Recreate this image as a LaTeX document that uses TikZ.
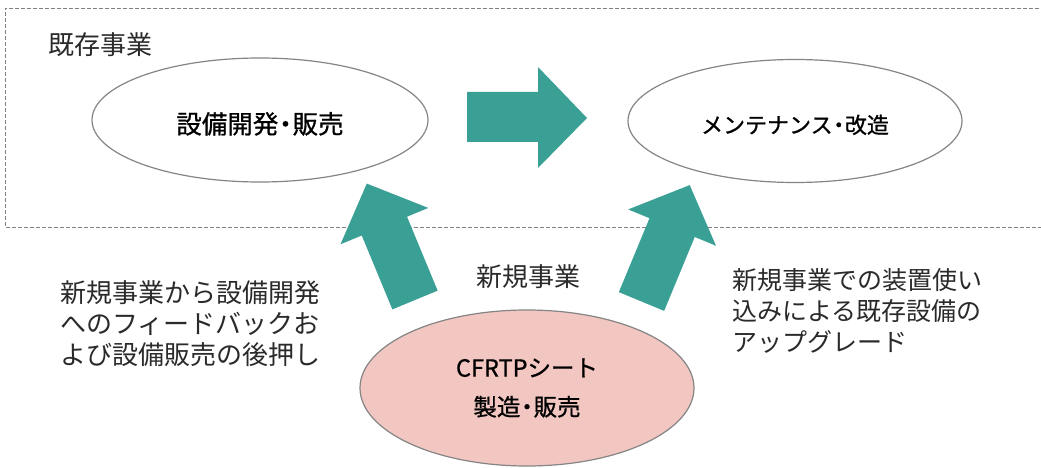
\documentclass[tikz,border=0pt]{standalone}
\usepackage{fontspec}
\newfontfamily\jp{Noto Sans CJK JP}
\newfontfamily\jpm{Noto Sans CJK JP}[FakeBold=0.8]
\usetikzlibrary{shapes.geometric}
\definecolor{tealblk}{HTML}{3AA096}
\definecolor{pinkfill}{HTML}{F2C6C1}
\definecolor{edgegray}{HTML}{858585}
\definecolor{txt}{HTML}{2A2A2A}
\newcommand{\ndot}{\kern-0.22em・\kern-0.22em}
\begin{document}
\begin{tikzpicture}[x=1pt,y=-1pt,
  oval/.style={ellipse, draw=edgegray, line width=1.2pt, inner sep=0pt, align=center, text=black},
  lbl/.style={font=\jp\fontsize{26}{31}\selectfont, inner sep=0pt, align=left, text=txt},
  blk/.style={fill=tealblk, draw=none}]
\useasboundingbox (0,0) rectangle (1041,468);
\fill[white] (0,0) rectangle (1041,468);
% existing business frame (open on the right)
\draw[gray, line width=0.8pt, dash pattern=on 4pt off 2pt] (1045,8) -- (5,8) -- (5,227) -- (1045,227);
% ellipses
\node[oval, minimum width=336pt, minimum height=124pt, text height=30pt, text depth=3pt, font=\jpm\fontsize{25.5}{28}\selectfont] (dev) at (260,120) {設備開発\ndot 販売};
\node[oval, minimum width=334pt, minimum height=123pt, text height=27pt, text depth=2.6pt, font=\jpm\fontsize{22}{26}\selectfont] (maint) at (795,121) {メンテナンス\ndot 改造};
\node[oval, fill=pinkfill, minimum width=334pt, minimum height=156pt, font=\jpm\fontsize{23.5}{39}\selectfont] (cfrtp) at (527,388) {CFRTPシート\\製造\ndot 販売};
% labels
\node[lbl, anchor=west] (kizon) at (48,45) {既存事業};
\node[lbl] (shinki) at (528,277) {新規事業};
\node[lbl, anchor=west] (leftnote) at (60,324) {新規事業から設備開発\\へのフィードバックお\\よび設備販売の後押し};
\node[lbl, anchor=west, font=\jp\fontsize{25}{31}\selectfont] (rightnote) at (732,311) {新規事業での装置使い\\込みによる既存設備の\\アップグレード};
% block arrows
\fill[blk] (467,92) -- (538,92) -- (538,67) -- (587,118) -- (538,168) -- (538,142) -- (467,142) -- cycle;
\begin{scope}[shift={(415,300)}, rotate=112.5]
  \fill[blk] (0,-24.5) -- (80,-24.5) -- (80,-47.5) -- (126,0) -- (80,47.5) -- (80,24.5) -- (0,24.5) -- cycle;
\end{scope}
\begin{scope}[shift={(641.5,301.5)}, rotate=67.5]
  \fill[blk] (0,-24.5) -- (80,-24.5) -- (80,-47.5) -- (126,0) -- (80,47.5) -- (80,24.5) -- (0,24.5) -- cycle;
\end{scope}
\end{tikzpicture}
\end{document}
